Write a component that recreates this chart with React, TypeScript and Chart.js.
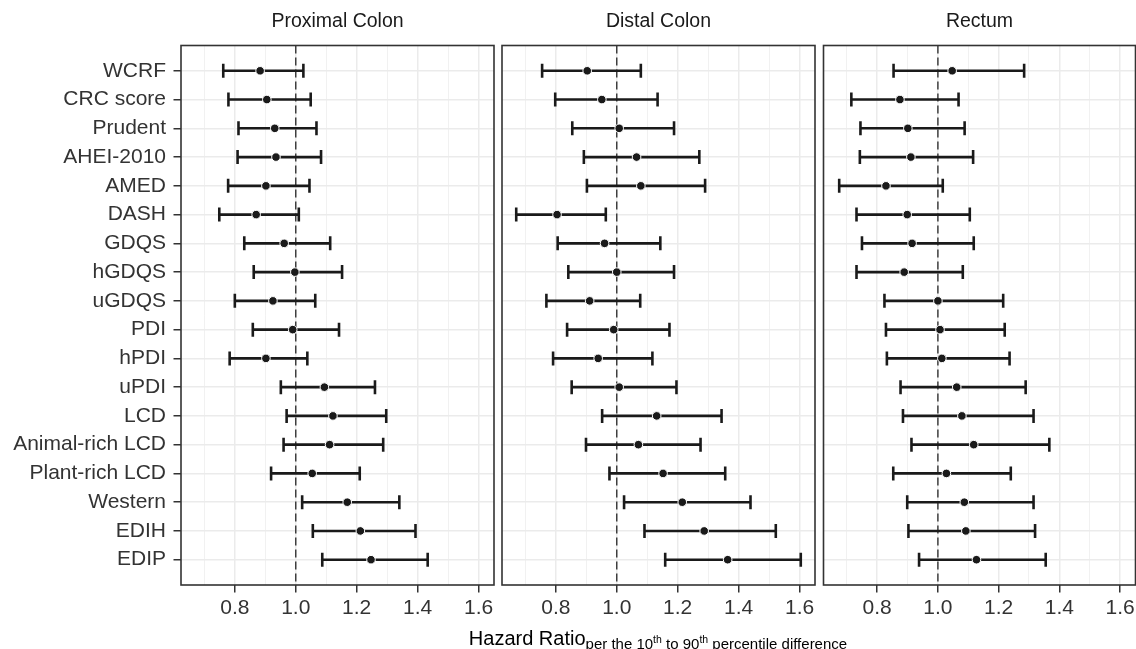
import React, { useEffect, useRef } from "react";
import { Chart, registerables } from "chart.js";

Chart.register(...registerables);

const categories = [
  "WCRF", "CRC score", "Prudent", "AHEI-2010", "AMED", "DASH", "GDQS", "hGDQS", "uGDQS",
  "PDI", "hPDI", "uPDI", "LCD", "Animal-rich LCD", "Plant-rich LCD", "Western", "EDIH", "EDIP",
];

const proximalHR = [0.883, 0.905, 0.931, 0.935, 0.902, 0.870, 0.962, 0.997, 0.925, 0.990, 0.902, 1.094, 1.122, 1.111, 1.054, 1.169, 1.212, 1.247];
const proximalLow = [0.762, 0.779, 0.812, 0.809, 0.778, 0.749, 0.831, 0.862, 0.800, 0.859, 0.783, 0.951, 0.970, 0.960, 0.919, 1.021, 1.056, 1.087];
const proximalHigh = [1.025, 1.049, 1.068, 1.083, 1.045, 1.010, 1.113, 1.152, 1.064, 1.142, 1.038, 1.260, 1.297, 1.287, 1.210, 1.340, 1.393, 1.433];

const distalHR = [0.903, 0.951, 1.008, 1.065, 1.079, 0.804, 0.960, 1.000, 0.911, 0.990, 0.939, 1.008, 1.131, 1.071, 1.152, 1.215, 1.287, 1.364];
const distalLow = [0.755, 0.798, 0.854, 0.892, 0.902, 0.670, 0.806, 0.841, 0.769, 0.837, 0.791, 0.852, 0.952, 0.899, 0.976, 1.024, 1.091, 1.159];
const distalHigh = [1.079, 1.134, 1.188, 1.271, 1.290, 0.964, 1.143, 1.188, 1.077, 1.173, 1.117, 1.196, 1.344, 1.275, 1.356, 1.439, 1.522, 1.604];

const rectumHR = [1.047, 0.875, 0.901, 0.911, 0.829, 0.899, 0.915, 0.889, 1.000, 1.007, 1.013, 1.062, 1.079, 1.118, 1.028, 1.087, 1.092, 1.127];
const rectumLow = [0.854, 0.715, 0.745, 0.743, 0.675, 0.732, 0.750, 0.732, 0.824, 0.829, 0.832, 0.877, 0.885, 0.913, 0.853, 0.899, 0.903, 0.938];
const rectumHigh = [1.284, 1.068, 1.088, 1.116, 1.016, 1.105, 1.118, 1.082, 1.215, 1.220, 1.236, 1.289, 1.315, 1.367, 1.240, 1.315, 1.320, 1.355];

const panelTitles = ["Proximal Colon", "Distal Colon", "Rectum"];
const xTickValues = [0.7, 0.8, 0.9, 1.0, 1.1, 1.2, 1.3, 1.4, 1.5, 1.6];
const referenceHR = 1.0;

const X_MIN = 0.6233;
const X_MAX = 1.6507;
const Y_MIN = -0.88;
const Y_MAX = 17.88;

const FONT = "'Liberation Sans', Arial, Helvetica, sans-serif";
const INK = "#1a1a1a";

const isMajor = (v: number) => Math.abs(Math.round(v * 10)) % 2 === 0;

const borderPlugin = {
  id: "panelBorder",
  afterDatasetsDraw(chart: any) {
    const { ctx, chartArea } = chart;
    const { left, top, right, bottom } = chartArea;
    ctx.save();
    ctx.strokeStyle = "#333333";
    ctx.lineWidth = 1.6;
    ctx.strokeRect(left, top, right - left, bottom - top);
    ctx.restore();
  },
};

type PanelProps = {
  hr: number[];
  lo: number[];
  hi: number[];
  showY: boolean;
  canvasLeft: number;
  canvasWidth: number;
  padLeft: number;
  padRight: number;
  yWidth: number;
};

function Panel(props: PanelProps) {
  const ref = useRef<HTMLCanvasElement | null>(null);
  useEffect(() => {
    if (!ref.current) return;
    const { hr, lo, hi, showY, padLeft, padRight, yWidth } = props;

    const whiskers = categories.map((_, i) => ({
      type: "line" as const,
      data: [
        { x: lo[i], y: i },
        { x: hi[i], y: i },
      ],
      borderColor: INK,
      borderWidth: 2.6,
      borderCapStyle: "butt" as const,
      pointRadius: 0,
      order: 2,
    }));

    const caps: { x: number; y: number }[] = [];
    categories.forEach((_, i) => {
      caps.push({ x: lo[i], y: i });
      caps.push({ x: hi[i], y: i });
    });

    const chart = new Chart(ref.current, {
      type: "scatter",
      data: {
        datasets: [
          {
            type: "scatter",
            data: categories.map((_, i) => ({ x: hr[i], y: i })),
            pointRadius: 4.3,
            pointBackgroundColor: INK,
            pointBorderColor: "#ffffff",
            pointBorderWidth: 1,
            order: 0,
          } as any,
          {
            type: "scatter",
            data: caps,
            pointStyle: "line",
            pointRotation: 90,
            pointRadius: 7,
            pointBorderWidth: 2.6,
            pointBorderColor: INK,
            order: 1,
          } as any,
          ...whiskers,
          {
            type: "line",
            data: [
              { x: referenceHR, y: Y_MIN },
              { x: referenceHR, y: Y_MAX },
            ],
            borderColor: "#333333",
            borderWidth: 1.4,
            borderDash: [8, 4],
            pointRadius: 0,
            order: 3,
          } as any,
        ],
      },
      options: {
        animation: false,
        responsive: false,
        devicePixelRatio: 1,
        layout: { autoPadding: false, padding: { top: 45.5, bottom: 0, left: padLeft, right: padRight } },
        plugins: { legend: { display: false }, tooltip: { enabled: false } },
        scales: {
          x: {
            type: "linear",
            min: X_MIN,
            max: X_MAX,
            afterBuildTicks: (s: any) => {
              s.ticks = xTickValues.map((v) => ({ value: v }));
            },
            afterFit: (s: any) => {
              s.height = 64;
              s.paddingLeft = 0;
              s.paddingRight = 0;
            },
            ticks: {
              autoSkip: false,
              maxRotation: 0,
              padding: 3.5,
              color: "#333333",
              font: { family: FONT, size: 21 },
              callback: (v: any) => (isMajor(Number(v)) ? Number(v).toFixed(1) : ""),
            },
            grid: {
              color: "#ebebeb",
              lineWidth: (ctx: any) => (ctx.tick && isMajor(ctx.tick.value) ? 1.5 : 0.7),
              drawTicks: true,
              tickLength: 7.5,
              tickWidth: 1.5,
              tickColor: (ctx: any) => (ctx.tick && isMajor(ctx.tick.value) ? "#333333" : "rgba(0,0,0,0)"),
            },
            border: { display: false },
          },
          y: {
            type: "linear",
            reverse: true,
            min: Y_MIN,
            max: Y_MAX,
            afterBuildTicks: (s: any) => {
              s.ticks = categories.map((_, i) => ({ value: i }));
            },
            afterFit: (s: any) => {
              s.width = yWidth;
              s.paddingTop = 0;
              s.paddingBottom = 0;
            },
            ticks: {
              display: showY,
              autoSkip: false,
              padding: 7.5,
              color: "#333333",
              font: { family: FONT, size: 21 },
              callback: (v: any) => categories[Math.round(Number(v))] ?? "",
            },
            grid: {
              color: "#ebebeb",
              lineWidth: 1.5,
              drawTicks: showY,
              tickLength: 7.5,
              tickWidth: 1.5,
              tickColor: "#333333",
            },
            border: { display: false },
          },
        },
      } as any,
      plugins: [borderPlugin],
    });
    return () => chart.destroy();
  }, []);

  return (
    <canvas
      ref={ref}
      width={props.canvasWidth}
      height={649}
      style={{ position: "absolute", left: props.canvasLeft, top: 0, width: props.canvasWidth, height: 649 }}
    />
  );
}

const panelBoxes = [
  { left: 181, width: 313 },
  { left: 502, width: 313 },
  { left: 823.5, width: 312 },
];

export default function App() {
  return (
    <div
      style={{
        position: "absolute",
        left: 0,
        top: 0,
        width: 1136,
        height: 649,
        background: "#ffffff",
        overflow: "hidden",
        fontFamily: FONT,
      }}
    >
      <Panel hr={proximalHR} lo={proximalLow} hi={proximalHigh} showY={true}
        canvasLeft={0} canvasWidth={496} padLeft={0} padRight={2} yWidth={181} />
      <Panel hr={distalHR} lo={distalLow} hi={distalHigh} showY={false}
        canvasLeft={500} canvasWidth={317} padLeft={2} padRight={2} yWidth={0} />
      <Panel hr={rectumHR} lo={rectumLow} hi={rectumHigh} showY={false}
        canvasLeft={821} canvasWidth={315} padLeft={2.5} padRight={0.5} yWidth={0} />
      {panelTitles.map((t, i) => (
        <div
          key={t}
          style={{
            position: "absolute",
            left: panelBoxes[i].left,
            width: panelBoxes[i].width,
            top: 8,
            fontSize: 19.5,
            lineHeight: "24px",
            textAlign: "center",
            color: INK,
            whiteSpace: "nowrap",
          }}
        >
          {t}
        </div>
      ))}
      <div
        style={{
          position: "absolute",
          left: 181,
          width: 954,
          top: 625.6,
          fontSize: 20,
          lineHeight: "24px",
          textAlign: "center",
          color: "#000000",
          whiteSpace: "nowrap",
        }}
      >
        Hazard Ratio
        <span style={{ fontSize: 15, position: "relative", top: 4 }}>
          per the 10<span style={{ fontSize: 10.5, position: "relative", top: -6 }}>th</span> to 90
          <span style={{ fontSize: 10.5, position: "relative", top: -6 }}>th</span> percentile difference
        </span>
      </div>
    </div>
  );
}
